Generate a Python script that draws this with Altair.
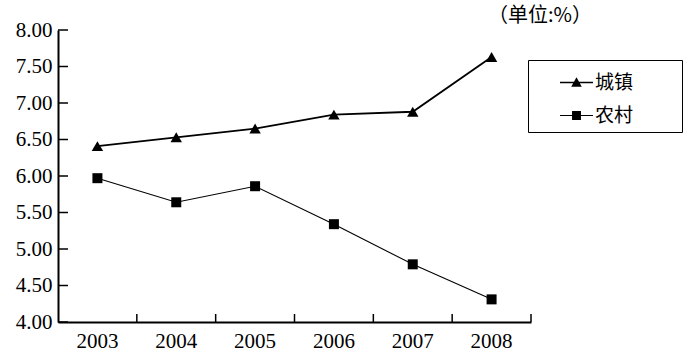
import altair as alt
import pandas as pd

years = ["2003", "2004", "2005", "2006", "2007", "2008"]
urban = [6.41, 6.53, 6.65, 6.84, 6.88, 7.63]
rural = [5.97, 5.64, 5.86, 5.34, 4.79, 4.31]
series = ["城镇", "农村"]
y_ticks = [4.0, 4.5, 5.0, 5.5, 6.0, 6.5, 7.0, 7.5, 8.0]
unit_label = "（单位:%）"

df = pd.DataFrame({
    "year": years * 2,
    "value": urban + rural,
    "series": [series[0]] * len(years) + [series[1]] * len(years),
})
tick_df = pd.DataFrame({"value": y_ticks})
year_df = pd.DataFrame({"year": years})

FONT = "Liberation Serif, Noto Sans CJK SC"
W, H = 473, 292

x_scale = alt.Scale(type="band", domain=years, paddingInner=0, paddingOuter=0)
y_scale = alt.Scale(domain=[4, 8], nice=False, zero=False)

x_axis = alt.Axis(ticks=False, labelAngle=0, labelPadding=8, domainWidth=2,
                  domainColor="black", grid=False, labelFont=FONT, labelFontSize=21,
                  labelColor="black", labelOverlap=False, title=None)
y_axis = alt.Axis(values=y_ticks, format=".2f", ticks=False, labelPadding=6,
                  domainWidth=2, domainColor="black", grid=False, labelFont=FONT,
                  labelFontSize=21, labelColor="black", labelOverlap=False, title=None,
                  tickCount=9)

def X(**kw):
    return alt.X("year:N", scale=x_scale, axis=x_axis, title=None, **kw)

def Y():
    return alt.Y("value:Q", scale=y_scale, axis=y_axis, title=None)

base = alt.Chart(df)

lines = base.mark_line(color="black").encode(
    x=X(), y=Y(),
    detail="series:N",
    strokeWidth=alt.StrokeWidth("series:N", scale=alt.Scale(domain=series, range=[1.8, 1.1]), legend=None),
)

points = base.mark_point(filled=True, color="black", opacity=1).encode(
    x=X(), y=Y(),
    shape=alt.Shape("series:N", scale=alt.Scale(domain=series, range=["triangle-up", "square"]), legend=None),
    size=alt.Size("series:N", scale=alt.Scale(domain=series, range=[130, 100]), legend=None),
)

tri_path = "M-1,-0.045H1V0.045H-1ZM0,-0.32L0.32,0.26L-0.32,0.26Z"
sq_path = "M-1,-0.035H1V0.035H-1ZM-0.27,-0.27H0.27V0.27H-0.27Z"

# invisible (non-whitespace) filler so the legend box keeps the reference's width
filler = "\u2800" * 3

legend_layer = base.mark_point(filled=True, color="black", opacity=0, size=1089).encode(
    x=X(), y=Y(),
    shape=alt.Shape("series:N", scale=alt.Scale(domain=series, range=[tri_path, sq_path]),
                    legend=alt.Legend(title=None,
                                      orient="none", legendX=470, legendY=30,
                                      strokeColor="black", fillColor="white", padding=6,
                                      labelFont=FONT, labelFontSize=19, labelColor="black",
                                      labelOffset=2, symbolOffset=26, rowPadding=6,
                                      symbolFillColor="black", symbolStrokeColor="black",
                                      symbolStrokeWidth=0, symbolOpacity=1, symbolSize=1089,
                                      labelExpr="datum.label + '" + filler + "'")),
)

y_inner_ticks = alt.Chart(tick_df).mark_rule(color="black", strokeWidth=1.5).encode(
    y=Y(),
    x=alt.value(0), x2=alt.value(10),
)

x_inner_ticks = alt.Chart(year_df).mark_rule(color="black", strokeWidth=1.5).encode(
    x=X(bandPosition=1),
    y=alt.value(H - 8), y2=alt.value(H),
)

chart = alt.layer(lines, points, legend_layer, y_inner_ticks, x_inner_ticks).resolve_scale(
    shape="independent", size="independent", strokeWidth="independent"
).properties(
    width=W, height=H,
    title=alt.TitleParams(unit_label, anchor="start", frame="group", dx=430, dy=10,
                          font="Noto Sans CJK SC", fontSize=20,
                          fontWeight="normal", color="black", offset=3),
    autosize=alt.AutoSizeParams(type="none"),
    padding={"left": 58, "top": 30, "right": 156, "bottom": 33},
    background="white",
).configure_view(stroke=None)

chart.save("out.html", embed_options={"renderer": "svg", "actions": False})
